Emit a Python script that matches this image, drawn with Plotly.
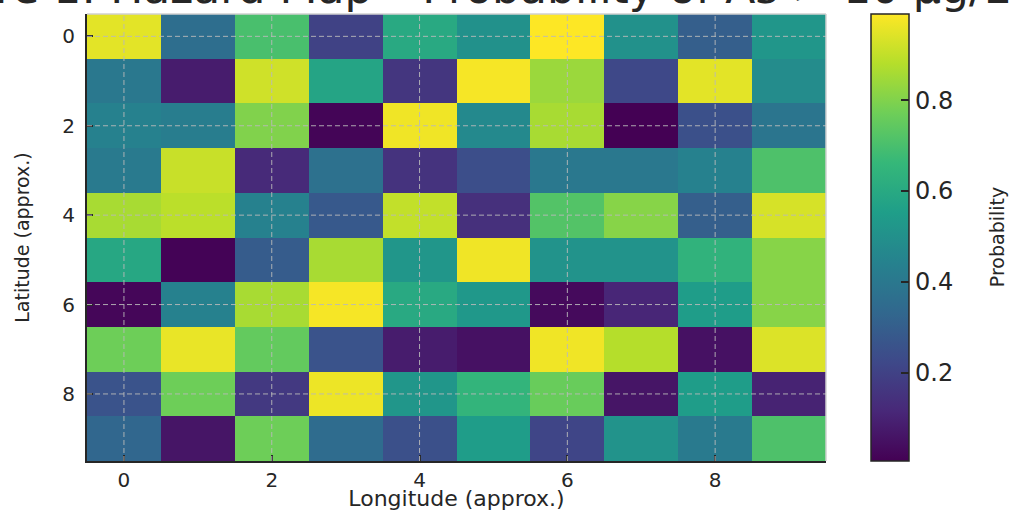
import plotly.graph_objects as go

longitude = list(range(10))
latitude = list(range(10))

row0 = [0.95, 0.36, 0.70, 0.20, 0.60, 0.50, 0.99, 0.50, 0.30, 0.52]
row1 = [0.40, 0.08, 0.92, 0.58, 0.16, 0.98, 0.84, 0.22, 0.95, 0.48]
row2 = [0.44, 0.42, 0.80, 0.015, 0.97, 0.47, 0.86, 0.005, 0.25, 0.39]
row3 = [0.41, 0.91, 0.12, 0.37, 0.15, 0.24, 0.40, 0.40, 0.44, 0.71]
row4 = [0.86, 0.89, 0.44, 0.28, 0.90, 0.14, 0.72, 0.81, 0.30, 0.93]
row5 = [0.59, 0.01, 0.29, 0.86, 0.52, 0.97, 0.51, 0.51, 0.64, 0.81]
row6 = [0.02, 0.44, 0.86, 0.98, 0.60, 0.53, 0.03, 0.11, 0.55, 0.81]
row7 = [0.77, 0.96, 0.75, 0.26, 0.08, 0.05, 0.97, 0.88, 0.05, 0.94]
row8 = [0.26, 0.77, 0.17, 0.965, 0.52, 0.65, 0.76, 0.06, 0.55, 0.10]
row9 = [0.33, 0.06, 0.77, 0.35, 0.25, 0.55, 0.21, 0.51, 0.41, 0.71]
probability = [row0, row1, row2, row3, row4, row5, row6, row7, row8, row9]

axis_ticks = [0, 2, 4, 6, 8]
cbar_ticks = [0.2, 0.4, 0.6, 0.8]

title_text = "Figure 1: Hazard Map – Probability of As > 10 µg/L"
dark = "#262626"
font_main = "DejaVu Sans"
grid_color = "rgba(185,185,185,0.9)"

fig = go.Figure(
    go.Heatmap(
        x=longitude,
        y=latitude,
        z=probability,
        colorscale="Viridis",
        hoverinfo="skip",
        colorbar=dict(
            tickvals=cbar_ticks,
            ticktext=[f"{v:.1f}" for v in cbar_ticks],
            ticks="inside",
            ticklen=8,
            tickwidth=1.5,
            tickcolor=dark,
            tickfont=dict(family=font_main, size=24, color=dark),
            thickness=38,
            thicknessmode="pixels",
            len=1,
            lenmode="fraction",
            x=1.061,
            xanchor="left",
            xpad=0,
            y=0.5,
            yanchor="middle",
            ypad=0,
            outlinewidth=1.5,
            outlinecolor=dark,
        ),
    )
)

axis_common = dict(
    tickvals=axis_ticks,
    ticks="inside",
    ticklen=6,
    tickwidth=1.5,
    tickcolor=dark,
    tickfont=dict(family=font_main, size=20, color=dark),
    showgrid=False,
    showline=True,
    linecolor=dark,
    linewidth=2,
    zeroline=False,
    automargin=False,
    layer="above traces",
)

fig.update_layout(
    width=1017,
    height=511,
    margin=dict(l=87, r=191, t=14, b=50, autoexpand=False),
    paper_bgcolor="white",
    plot_bgcolor="white",
    xaxis=dict(
        range=[-0.5, 9.5],
        title=dict(text="Longitude (approx.)", standoff=5,
                   font=dict(family=font_main, size=22, color=dark)),
        **axis_common,
    ),
    yaxis=dict(
        range=[9.5, -0.5],
        ticklabelstandoff=6,
        title=dict(text="Latitude (approx.)", standoff=28,
                   font=dict(family=font_main, size=19, color=dark)),
        **axis_common,
    ),
)

# title, partly cut off at the top edge as in the reference
fig.add_annotation(
    text=title_text, xref="paper", yref="paper", x=0.5, y=1,
    xanchor="center", yanchor="bottom", yshift=-1, showarrow=False,
    font=dict(family=font_main, size=44, color=dark),
)

# colour bar title
fig.add_annotation(
    text="Probability", xref="paper", yref="paper", x=1.231, y=0.5,
    xanchor="center", yanchor="middle", textangle=-90, showarrow=False,
    font=dict(family=font_main, size=19, color=dark),
)

# dashed grid lines drawn over the cells at the tick positions
for t in axis_ticks:
    fig.add_shape(type="line", xref="x", yref="paper", x0=t, x1=t, y0=0, y1=1,
                  line=dict(color=grid_color, width=1, dash="5px,3px"), layer="above")
    fig.add_shape(type="line", xref="paper", yref="y", x0=0, x1=1, y0=t, y1=t,
                  line=dict(color=grid_color, width=1, dash="5px,3px"), layer="above")

fig.add_shape(type="line", xref="paper", yref="paper", x0=0, x1=1, y0=1, y1=1,
              line=dict(color="#d0d0d0", width=1.5), layer="above")
fig.add_shape(type="line", xref="paper", yref="paper", x0=1, x1=1, y0=0, y1=1,
              line=dict(color="#d0d0d0", width=1.5), layer="above")

fig.write_html(
    "out.html",
    config={"displayModeBar": False},
    post_script="document.body.style.margin='0';document.body.style.overflow='hidden';",
)
